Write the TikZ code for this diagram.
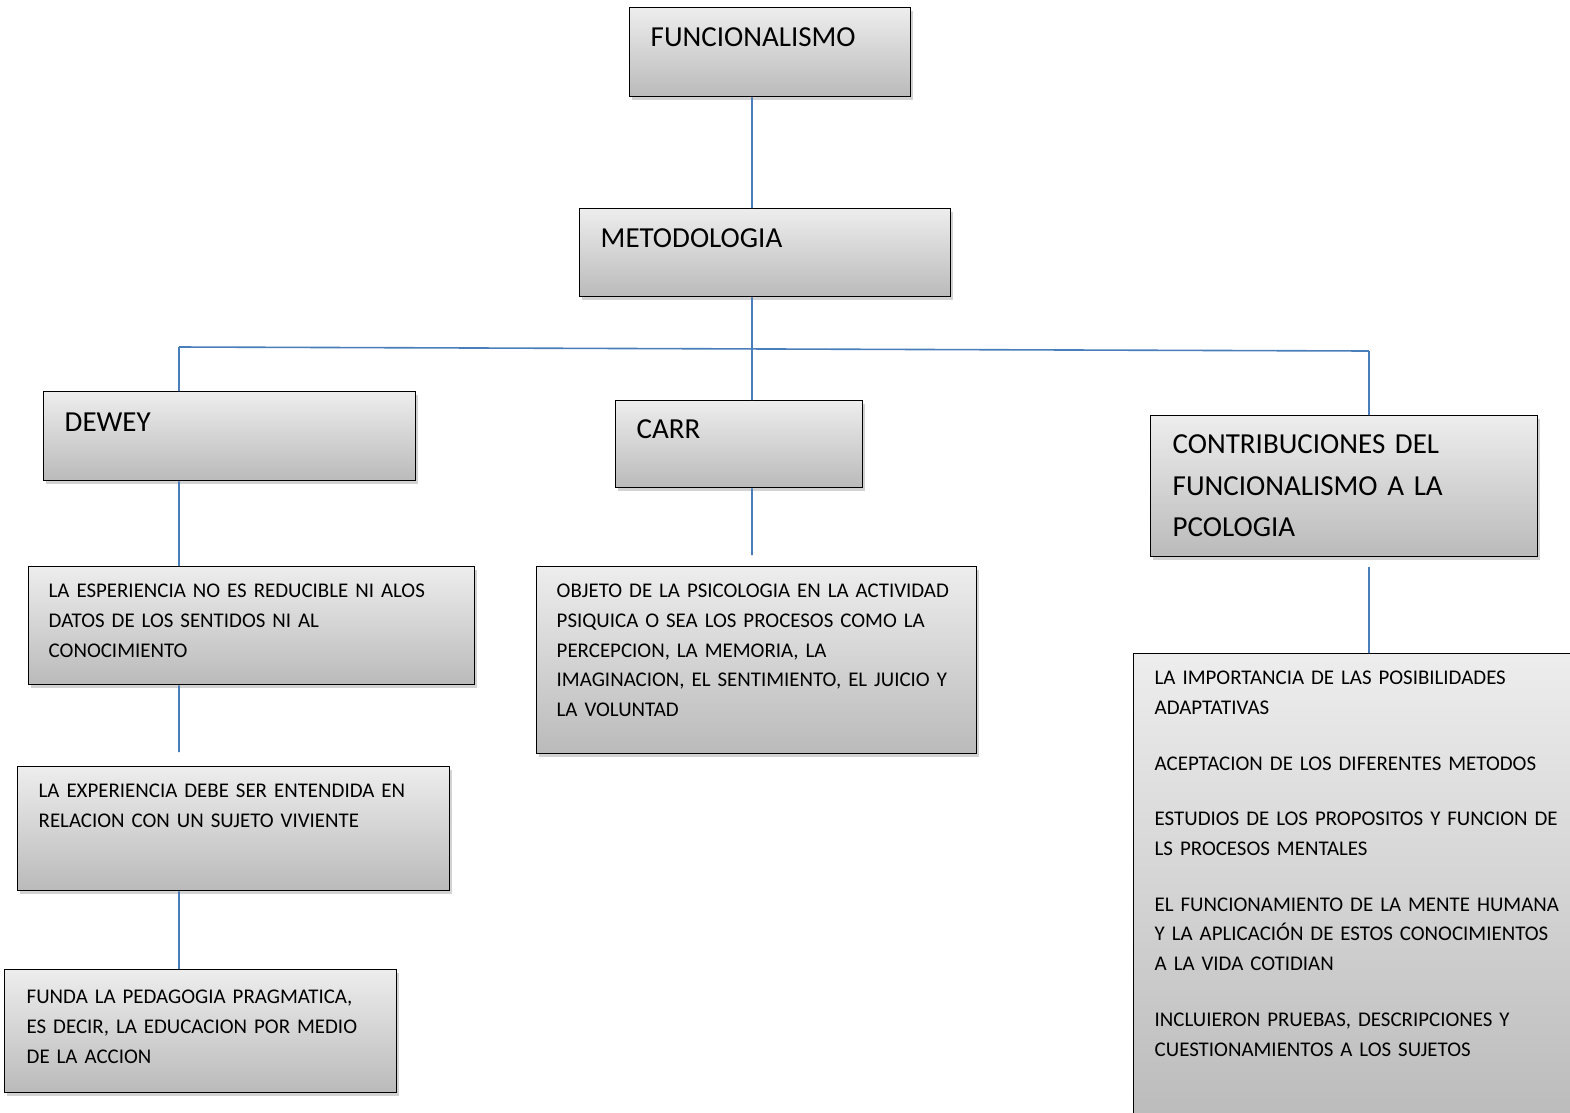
\documentclass[tikz,border=0pt]{standalone}
\usepackage{fontspec}
\setmainfont{Carlito}
\usetikzlibrary{shadows,calc}

\definecolor{linkblue}{HTML}{4A7EBB}

\begin{document}
\begin{tikzpicture}[x=1pt,y=-1pt]
    % `concept' is the grey box used for every entry.
    % `big' and `small' set the two text sizes.
    % `link' is used for the blue connecting lines.
    \tikzstyle{concept} = [draw=black,line width=1.4pt,anchor=north west,
        top color=black!7,bottom color=black!27,inner ysep=0pt,align=left,
        drop shadow={opacity=0.35,shadow xshift=2pt,shadow yshift=-3pt}]
    \tikzstyle{big} = [font=\fontsize{29}{41.5}\selectfont]
    \tikzstyle{small} = [font=\fontsize{20.9}{29.7}\selectfont]
    \tikzstyle{link} = [draw=linkblue,line width=1.6pt]
    %
    \useasboundingbox[fill=white] (0,0) rectangle (1570,1112);
    \coordinate (spine) at (752,0);
    \coordinate (bl) at (179,347);
    \coordinate (br) at (1369,351);
    \coordinate (carrend) at (752,555);
    \coordinate (esperend) at (179,752);
    \coordinate (contribend) at (1369,567);
    %
    \node[concept,big,inner xsep=21pt,text width=239pt,text height=39pt,text depth=50pt]
        (funcional) at (629,7) {FUNCIONALISMO};
    \node[concept,big,inner xsep=21pt,text width=329pt,text height=39pt,text depth=49pt]
        (metod) at (579,208) {METODOLOGIA};
    \node[concept,big,inner xsep=21pt,text width=330pt,text height=40pt,text depth=49pt]
        (dewey) at (43,391) {DEWEY};
    \node[concept,big,inner xsep=21pt,text width=205pt,text height=38pt,text depth=49pt]
        (carr) at (615,400) {CARR};
    \node[concept,big,inner xsep=22pt,text width=343pt,text height=38pt,text depth=103pt]
        (contrib) at (1150,415) {CONTRIBUCIONES DEL\\FUNCIONALISMO A LA\\PCOLOGIA};
    %
    \node[concept,small,inner xsep=20pt,text width=406pt,text height=31pt,text depth=87pt]
        (esper) at (28,566) {LA ESPERIENCIA NO ES REDUCIBLE NI ALOS\\DATOS DE LOS SENTIDOS NI AL\\CONOCIMIENTO};
    \node[concept,small,inner xsep=21pt,text width=390pt,text height=31pt,text depth=93pt]
        (vivo) at (17,766) {LA EXPERIENCIA DEBE SER ENTENDIDA EN\\RELACION CON UN SUJETO VIVIENTE};
    \node[concept,small,inner xsep=22pt,text width=348pt,text height=34pt,text depth=89pt]
        (funda) at (4,969) {FUNDA LA PEDAGOGIA PRAGMATICA,\\ES DECIR, LA EDUCACION POR MEDIO\\DE LA ACCION};
    \node[concept,small,inner xsep=20pt,text width=400pt,text height=31pt,text depth=156pt]
        (objeto) at (536,566) {OBJETO DE LA PSICOLOGIA EN LA ACTIVIDAD\\PSIQUICA O SEA LOS PROCESOS COMO LA\\PERCEPCION, LA MEMORIA, LA\\IMAGINACION, EL SENTIMIENTO, EL JUICIO Y\\LA VOLUNTAD};
    \node[concept,small,inner xsep=21pt,text width=425pt,text height=31pt,text depth=446pt]
        (aportes) at (1133,653) {LA IMPORTANCIA DE LAS POSIBILIDADES\\ADAPTATIVAS\\[26pt]
        ACEPTACION DE LOS DIFERENTES METODOS\\[26pt]
        ESTUDIOS DE LOS PROPOSITOS Y FUNCION DE\\LS PROCESOS MENTALES\\[26pt]
        EL FUNCIONAMIENTO DE LA MENTE HUMANA\\Y LA APLICACIÓN DE ESTOS CONOCIMIENTOS\\A LA VIDA COTIDIAN\\[26pt]
        INCLUIERON PRUEBAS, DESCRIPCIONES Y\\CUESTIONAMIENTOS A LOS SUJETOS};
    %
    % Draw lines.
    \draw[link] (funcional.south -| spine) -- (metod.north -| spine)
                (metod.south -| spine) -- (carr.north -| spine)
                (bl) -- (br)
                (bl) -- (dewey.north -| bl)  (br) -- (contrib.north -| br)
                (carr.south -| spine) -- (carrend)
                (dewey.south -| bl) -- (esper.north -| bl)
                (esper.south -| bl) -- (esperend)
                (vivo.south -| bl) -- (funda.north -| bl)
                (contribend) -- (aportes.north -| br);
\end{tikzpicture}
\end{document}
